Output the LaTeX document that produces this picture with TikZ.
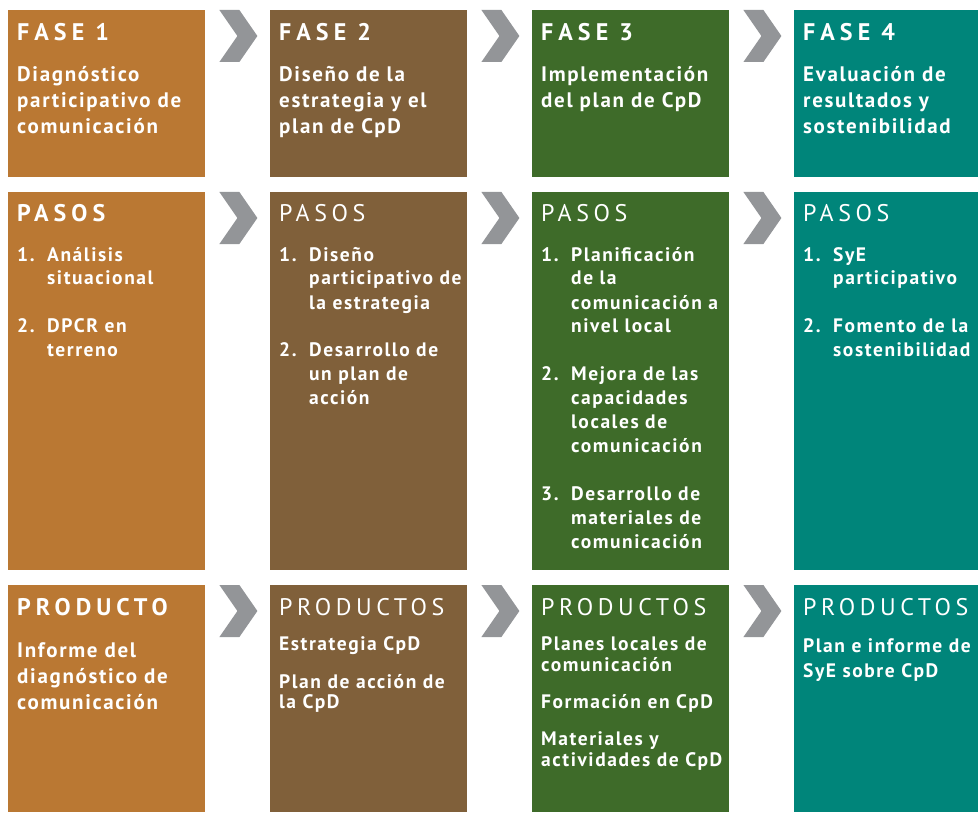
\documentclass[tikz,border=0pt]{standalone}
\usepackage{fontspec}
\setmainfont{PT Sans}
\newfontfamily\headfont[LetterSpace=19]{PT Sans}
\newfontfamily\headboldfont[LetterSpace=21]{PT Sans}
\newfontfamily\bodyfont[LetterSpace=8]{PT Sans}
\definecolor{fase1}{HTML}{BA7833}
\definecolor{fase2}{HTML}{80603A}
\definecolor{fase3}{HTML}{3E6B29}
\definecolor{fase4}{HTML}{00857A}
\definecolor{chevgray}{HTML}{939598}
\newcommand{\stepnum}[1]{\makebox[30pt][l]{#1}}
\newcommand{\stepind}{\hspace*{30pt}}
\tikzset{
  box/.style={fill=#1, anchor=north west, inner sep=0pt, minimum width=197pt},
  head/.style={anchor=base west, inner sep=0pt, text=white, font=\headfont\fontsize{24}{24}\selectfont},
  headb/.style={head, font=\headboldfont\bfseries\fontsize{24}{24}\selectfont},
  body/.style={anchor=base west, inner sep=0pt, text=white, text width=260pt, align=left,
    font=\bodyfont\bfseries\fontsize{19.5}{#1}\selectfont},
  bodyl/.style={body=#1, font=\bodyfont\bfseries\fontsize{21}{#1}\selectfont},
  chev/.style={fill=chevgray},
}
\begin{document}
\begin{tikzpicture}[x=1pt, y=-1pt]
    \useasboundingbox (0,0) rectangle (978,832);
    % cajas
    \node[box=fase1, minimum height=167pt] (f1) at (8,10) {};
    \node[box=fase2, minimum height=167pt] (f2) at (270,10) {};
    \node[box=fase3, minimum height=167pt] (f3) at (532,10) {};
    \node[box=fase4, minimum height=167pt, minimum width=184pt] (f4) at (794,10) {};
    \node[box=fase1, minimum height=378pt] (p1) at (8,192) {};
    \node[box=fase2, minimum height=378pt] (p2) at (270,192) {};
    \node[box=fase3, minimum height=378pt] (p3) at (532,192) {};
    \node[box=fase4, minimum height=378pt, minimum width=184pt] (p4) at (794,192) {};
    \node[box=fase1, minimum height=227pt] (r1) at (8,585) {};
    \node[box=fase2, minimum height=227pt] (r2) at (270,585) {};
    \node[box=fase3, minimum height=227pt] (r3) at (532,585) {};
    \node[box=fase4, minimum height=227pt, minimum width=184pt] (r4) at (794,585) {};
    % flechas
    \foreach \a in {f1,f2,f3,p1,p2,p3,r1,r2,r3}
        \fill[chev] ([xshift=14pt]\a.north east) -- ++(20,0) -- ++(18,26) -- ++(-18,26) -- ++(-20,0) -- ++(18,-26) -- cycle;
    % fases
    \node[headb] (f1h) at (17,41) {FASE 1};
    \node[headb] (f2h) at (279,41) {FASE 2};
    \node[headb] (f3h) at (541,41) {FASE 3};
    \node[headb] (f4h) at (803,41) {FASE 4};
    \node[bodyl=26pt] (f1t) at (17,82) {Diagnóstico\\participativo de\\comunicación};
    \node[bodyl=26pt] (f2t) at (279,82) {Diseño de la\\estrategia y el\\plan de CpD};
    \node[bodyl=26pt] (f3t) at (541,82) {Implementación\\del plan de CpD};
    \node[bodyl=26pt] (f4t) at (803,82) {Evaluación de\\resultados y\\sostenibilidad};
    % pasos
    \node[headb] (p1h) at (17,222) {PASOS};
    \node[head] (p2h) at (279,222) {PASOS};
    \node[head] (p3h) at (541,222) {PASOS};
    \node[head] (p4h) at (803,222) {PASOS};
    \node[body=24pt] (p1t) at (17,261) {\stepnum{1.}Análisis\\\stepind situacional\\[24pt]
        \stepnum{2.}DPCR en\\\stepind terreno};
    \node[body=24pt] (p2t) at (279,261) {\stepnum{1.}Diseño\\\stepind participativo de\\\stepind la estrategia\\[24pt]
        \stepnum{2.}Desarrollo de\\\stepind un plan de\\\stepind acción};
    \node[body=24pt] (p3t) at (541,261) {\stepnum{1.}Planificación\\\stepind de la\\\stepind comunicación a\\\stepind nivel local\\[24pt]
        \stepnum{2.}Mejora de las\\\stepind capacidades\\\stepind locales de\\\stepind comunicación\\[24pt]
        \stepnum{3.}Desarrollo de\\\stepind materiales de\\\stepind comunicación};
    \node[body=24pt] (p4t) at (803,261) {\stepnum{1.}SyE\\\stepind participativo\\[24pt]
        \stepnum{2.}Fomento de la\\\stepind sostenibilidad};
    % productos
    \node[headb] (r1h) at (17,615) {PRODUCTO};
    \node[head] (r2h) at (279,615) {PRODUCTOS};
    \node[head] (r3h) at (541,615) {PRODUCTOS};
    \node[head] (r4h) at (803,615) {PRODUCTOS};
    \node[bodyl=26pt] (r1t) at (17,657) {Informe del\\diagnóstico de\\comunicación};
    \node[body=20pt] (r2t) at (279,650) {Estrategia CpD\\[18pt]Plan de acción de\\la CpD};
    \node[body=21pt] (r3t) at (541,650) {Planes locales de\\comunicación\\[16pt]Formación en CpD\\[16pt]
        Materiales y\\actividades de CpD};
    \node[body=25pt] (r4t) at (803,652) {Plan e informe de\\SyE sobre CpD};
\end{tikzpicture}
\end{document}
